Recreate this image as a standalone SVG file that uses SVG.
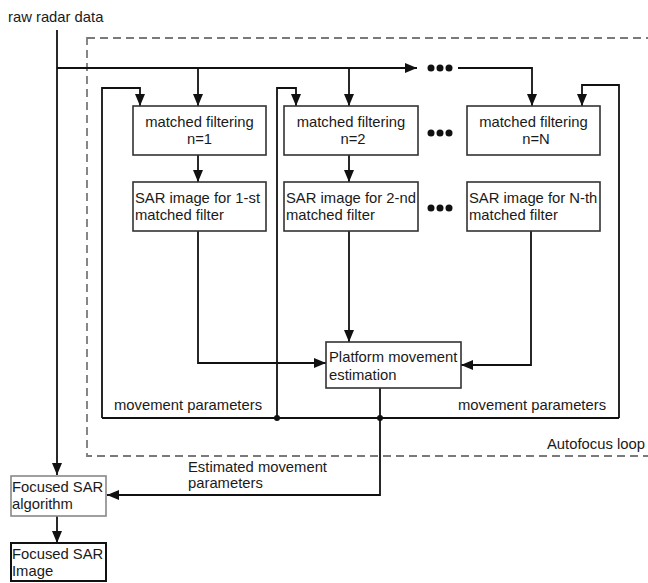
<svg xmlns="http://www.w3.org/2000/svg" width="648" height="583" viewBox="0 0 648 583">
<style>
text{font-family:"Liberation Sans",Arial,sans-serif;font-size:14.8px;fill:#1a1a1a}
.box{fill:#fff;stroke:#333;stroke-width:1.6}
.c{fill:none;stroke:#111;stroke-width:1.8}
.dash{fill:none;stroke:#7a7a7a;stroke-width:1.8;stroke-dasharray:8,5}
.dot{fill:#111}
</style>
<defs>
<marker id="ah" viewBox="0 0 12 10" refX="12" refY="5" markerWidth="12" markerHeight="10" markerUnits="userSpaceOnUse" orient="auto">
<path d="M0,0 L12,5 L0,10 z" fill="#111"/>
</marker>
</defs>
<rect class="dash" x="87" y="38" width="580" height="418"/>
<text x="8" y="22">raw radar data</text>
<text x="547" y="449">Autofocus loop</text>
<g id="connectors">
<path class="c" d="M57,30 V475" marker-end="url(#ah)"/>
<path class="c" d="M57,68 H417" marker-end="url(#ah)"/>
<path class="c" d="M458,68 H532 V106" marker-end="url(#ah)"/>
<path class="c" d="M198,68 V106" marker-end="url(#ah)"/>
<path class="c" d="M349,68 V106" marker-end="url(#ah)"/>
<path class="c" d="M198,155 V182" marker-end="url(#ah)"/>
<path class="c" d="M349,155 V182" marker-end="url(#ah)"/>
<path class="c" d="M102,418 V88 H140 V106" marker-end="url(#ah)"/>
<path class="c" d="M277,418 V88 H296 V106" marker-end="url(#ah)"/>
<path class="c" d="M619,418 V85 H582 V106" marker-end="url(#ah)"/>
<path class="c" d="M102,418 H619"/>
<path class="c" d="M198,231 V363 H326" marker-end="url(#ah)"/>
<path class="c" d="M349,231 V342" marker-end="url(#ah)"/>
<path class="c" d="M531,231 V365 H461" marker-end="url(#ah)"/>
<path class="c" d="M380,388 V495 H107" marker-end="url(#ah)"/>
<path class="c" d="M57,516 V543" marker-end="url(#ah)"/>
<circle class="dot" cx="277" cy="418" r="3"/>
<circle class="dot" cx="380" cy="418" r="3"/>
<circle class="dot" cx="431" cy="68" r="3.5"/>
<circle class="dot" cx="440" cy="68" r="3.5"/>
<circle class="dot" cx="449" cy="68" r="3.5"/>
<circle class="dot" cx="431" cy="133" r="3.5"/>
<circle class="dot" cx="440" cy="133" r="3.5"/>
<circle class="dot" cx="449" cy="133" r="3.5"/>
<circle class="dot" cx="431" cy="208" r="3.5"/>
<circle class="dot" cx="440" cy="208" r="3.5"/>
<circle class="dot" cx="449" cy="208" r="3.5"/>
<text x="114" y="410">movement parameters</text>
<text x="458" y="410">movement parameters</text>
<text x="188" y="472">Estimated movement</text>
<text x="188" y="488">parameters</text>
</g>
<g id="mf1">
<rect class="box" x="133" y="106" width="133" height="49"/>
<text x="199.5" y="127" text-anchor="middle">matched filtering</text>
<text x="199.5" y="144" text-anchor="middle">n=1</text>
</g>
<g id="mf2">
<rect class="box" x="284" y="106" width="134" height="49"/>
<text x="351" y="127" text-anchor="middle">matched filtering</text>
<text x="353" y="144" text-anchor="middle">n=2</text>
</g>
<g id="mfN">
<rect class="box" x="467" y="106" width="133" height="49"/>
<text x="533.5" y="127" text-anchor="middle">matched filtering</text>
<text x="536" y="144" text-anchor="middle">n=N</text>
</g>
<g id="sar1">
<rect class="box" x="133" y="182" width="133" height="49"/>
<text x="135" y="203">SAR image for 1-st</text>
<text x="135" y="220">matched filter</text>
</g>
<g id="sar2">
<rect class="box" x="284" y="182" width="134" height="49"/>
<text x="286" y="203">SAR image for 2-nd</text>
<text x="286" y="220">matched filter</text>
</g>
<g id="sarN">
<rect class="box" x="467" y="182" width="133" height="49"/>
<text x="469" y="203">SAR image for N-th</text>
<text x="469" y="220">matched filter</text>
</g>
<g id="pme">
<rect class="box" x="326" y="342" width="135" height="46"/>
<text x="329" y="362">Platform movement</text>
<text x="329" y="380">estimation</text>
</g>
<g id="fsa">
<rect x="11" y="476" width="95" height="40" fill="#fff" stroke="#888" stroke-width="1.6"/>
<text x="12" y="492">Focused SAR</text>
<text x="12" y="509">algorithm</text>
</g>
<g id="fsi">
<rect x="11" y="543" width="95" height="38" fill="#fff" stroke="#111" stroke-width="2"/>
<text x="12" y="559">Focused SAR</text>
<text x="12" y="576">Image</text>
</g>
</svg>
